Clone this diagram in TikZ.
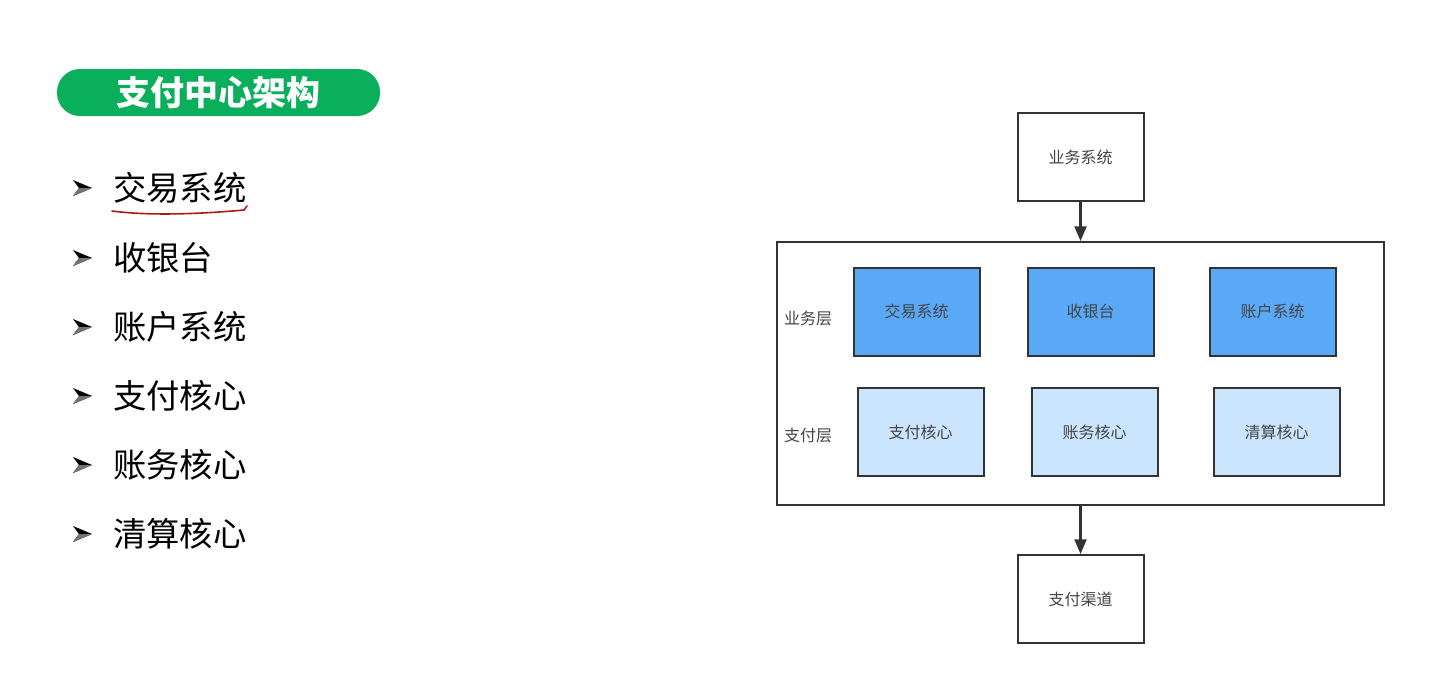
\documentclass[tikz,border=0pt]{standalone}
\usepackage{fontspec}
\setmainfont{Noto Sans CJK SC}
\usetikzlibrary{arrows.meta}
\definecolor{pillgreen}{HTML}{0AAF5C}
\definecolor{bizblue}{HTML}{5AA9F7}
\definecolor{payblue}{HTML}{CCE5FF}
\definecolor{edge}{HTML}{333333}
\definecolor{txt}{HTML}{444444}
\definecolor{ink}{HTML}{B01818}
\begin{document}
\begin{tikzpicture}[x=0.75pt,y=-0.75pt,
  box/.style={draw=edge,line width=1.5pt,minimum width=126*0.75pt,minimum height=88*0.75pt,inner sep=0pt,font=\fontsize{12}{14}\selectfont,text=txt},
  bizbox/.style={box,fill=bizblue},
  paybox/.style={box,fill=payblue},
  plainbox/.style={box,fill=white},
  layerlbl/.style={font=\fontsize{12}{14}\selectfont,text=txt},
  item/.style={anchor=west,font=\fontsize{25}{28}\selectfont,text=black,inner sep=0pt},
  flow/.style={draw=edge,line width=1.6pt,-{Triangle[length=11pt,width=9pt]}}
]
\useasboundingbox (0,0) rectangle (1441,690);
\fill[white] (0,0) rectangle (1441,690);
% title pill
\node[fill=pillgreen,rounded corners=23*0.75pt,minimum width=323*0.75pt,minimum height=47*0.75pt,inner sep=0pt,text=white,font=\bfseries\fontsize{25.5}{28}\selectfont] (title) at (218.5,92.5) {支付中心架构};
% list
\foreach \t/\y [count=\i] in {交易系统/188,收银台/258,账户系统/327,支付核心/396,账务核心/465,清算核心/534}{
  \node[item] (it\i) at (113,\y) {\t};
  \fill[black] (it\i.west) ++(-21,0) -- ++(-19,-8) -- ++(6,8) -- ++(-6,8) -- cycle;
  \fill[black!55] (it\i.west) ++(-21,0) -- ++(-13,0) -- ++(-6,8) -- cycle;
}
\draw[ink,line width=1.2pt,line cap=round] (112,211) .. controls (150,216) and (200,214) .. (244,210) -- (247,206);
% diagram
\node[plainbox] (biz) at (1080.5,157) {业务系统};
\node[draw=edge,line width=1.5pt,minimum width=607*0.75pt,minimum height=263*0.75pt,inner sep=0pt] (frame) at (1080.5,373.5) {};
\node[bizbox] (jy) at (916.5,311.5) {交易系统};
\node[bizbox] (sy) at (1090.5,311.5) {收银台};
\node[bizbox] (zh) at (1272.5,311.5) {账户系统};
\node[paybox] (zf) at (920.5,432) {支付核心};
\node[paybox] (zw) at (1094.5,432) {账务核心};
\node[paybox] (qs) at (1276.5,432) {清算核心};
\node[layerlbl] (l1) at (808,318) {业务层};
\node[layerlbl] (l2) at (808,435) {支付层};
\node[plainbox] (qd) at (1080.5,599) {支付渠道};
\draw[flow] (biz.south) -- (biz.south |- frame.north);
\draw[flow] (qd.north |- frame.south) -- (qd.north);
\end{tikzpicture}
\end{document}
